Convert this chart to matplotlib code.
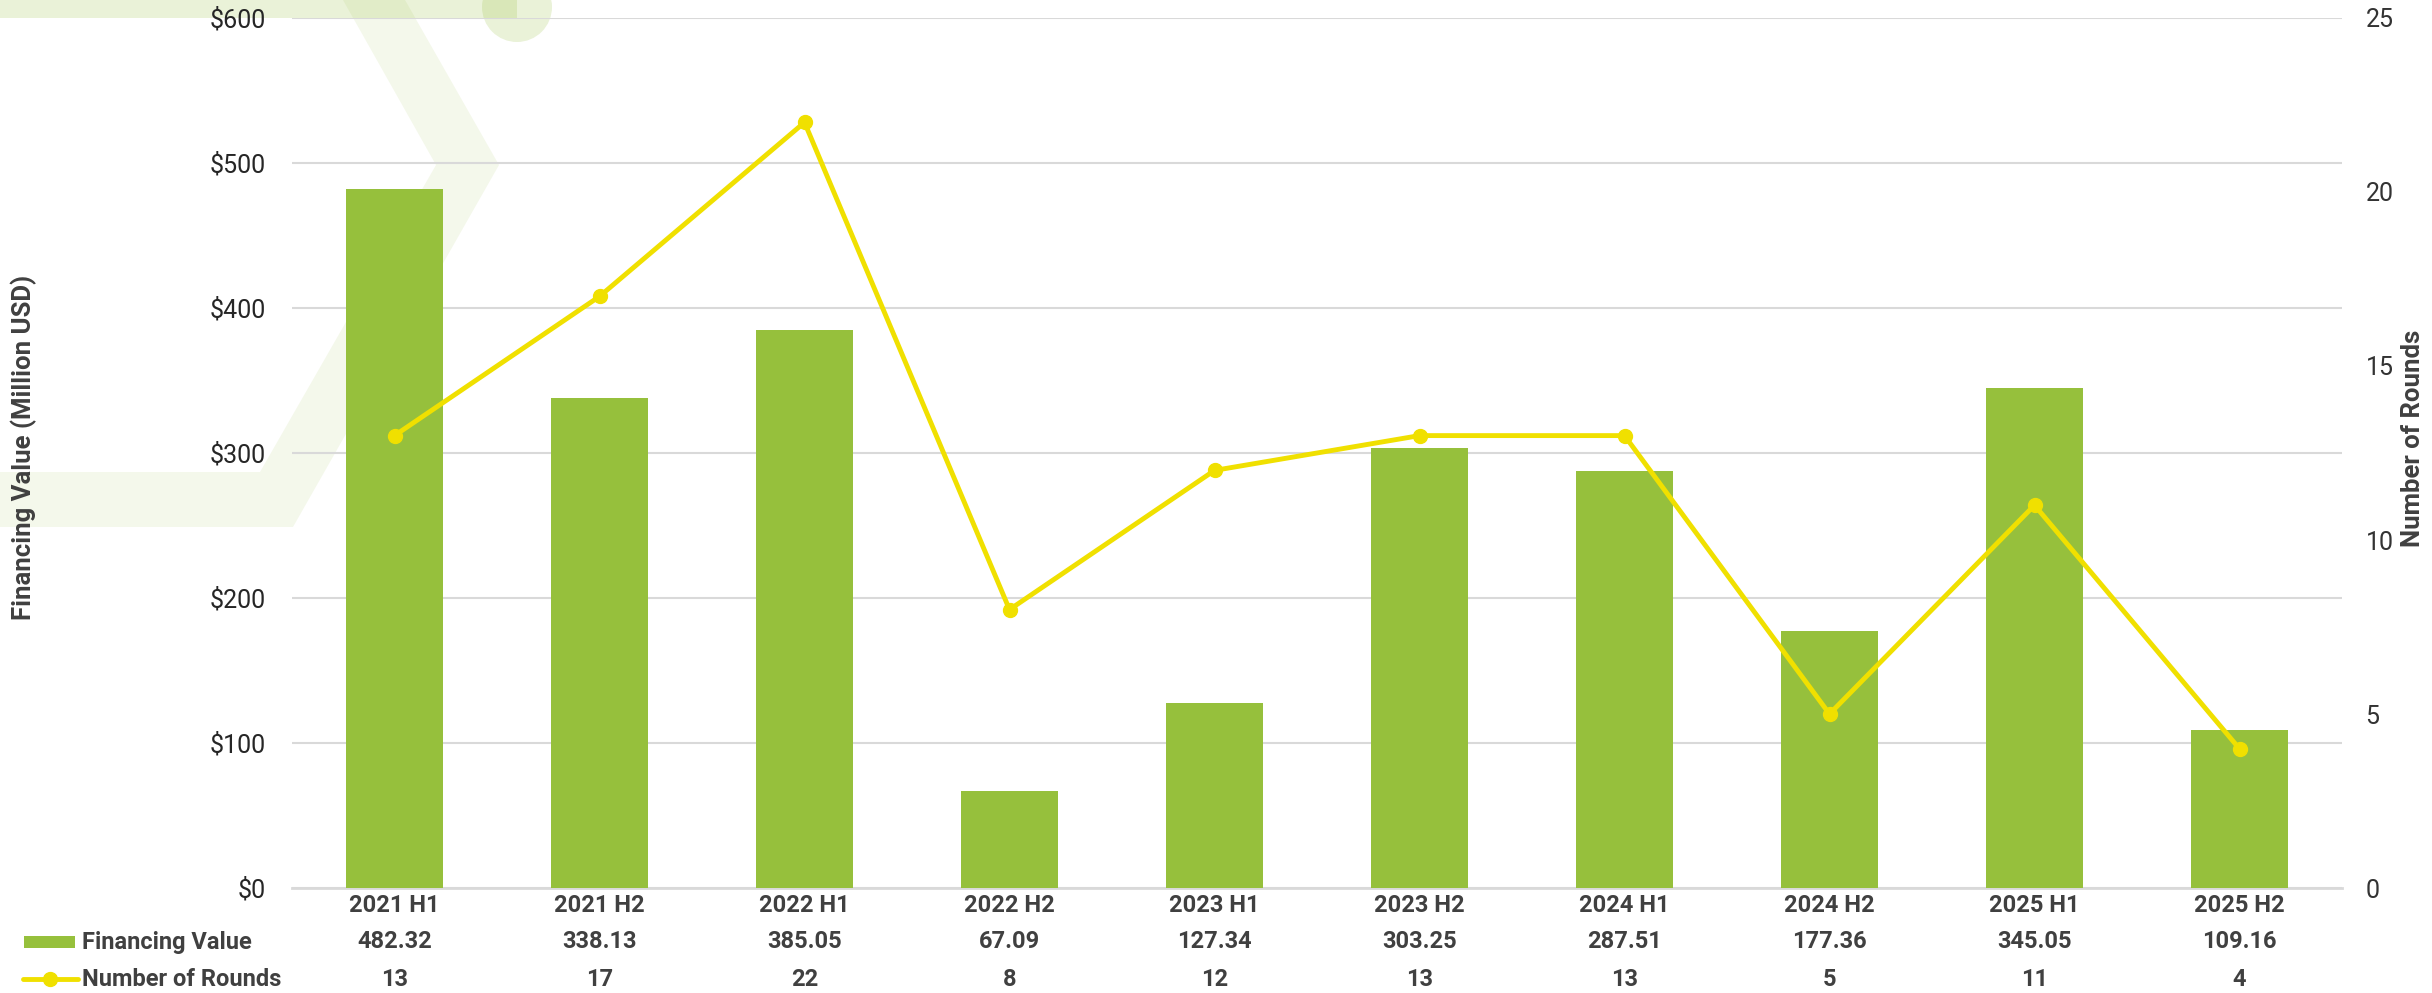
import matplotlib
matplotlib.use("Agg")
import matplotlib.pyplot as plt
from matplotlib.patches import Polygon, Circle, Rectangle
from matplotlib.lines import Line2D
from matplotlib.transforms import blended_transform_factory
from matplotlib.ticker import FuncFormatter, MultipleLocator

plt.rcParams['font.family'] = ['Roboto', 'DejaVu Sans']

categories = ["2021 H1", "2021 H2", "2022 H1", "2022 H2", "2023 H1",
              "2023 H2", "2024 H1", "2024 H2", "2025 H1", "2025 H2"]
financing_value = [482.32, 338.13, 385.05, 67.09, 127.34,
                   303.25, 287.51, 177.36, 345.05, 109.16]
number_of_rounds = [13, 17, 22, 8, 12, 13, 13, 5, 11, 4]

W, H = 2432, 993
BAR_COLOR = "#96C03C"
LINE_COLOR = "#F0E000"
GRID_COLOR = "#D9D9D9"
TEXT_DARK = "#404040"

fig = plt.figure(figsize=(W / 100, H / 100), dpi=100)
fig.patch.set_facecolor("white")

# background watermark layer (pixel coordinates)
bg = fig.add_axes([0, 0, 1, 1], zorder=0)
bg.set_xlim(0, W)
bg.set_ylim(H, 0)
bg.axis("off")
chevron = [(343, 0), (436, 165), (260, 472), (0, 472), (0, 527),
           (293, 527), (499, 165), (405, 0)]
bg.add_patch(Polygon(chevron, closed=True, facecolor="#96BE3C", alpha=0.1, lw=0))
bg.add_patch(Rectangle((0, -5), 517, 23, facecolor="#96BE3C", alpha=0.2, lw=0))
bg.add_patch(Circle((517, 7), 35, facecolor="#96BE3C", alpha=0.2, lw=0))

# legend keys of the data table
bg.add_patch(Rectangle((24, 936), 51, 12, facecolor=BAR_COLOR, lw=0))
bg.add_line(Line2D([23, 78], [979, 979], color=LINE_COLOR, lw=3.5,
                   solid_capstyle="round"))
bg.plot([50], [979], "o", color=LINE_COLOR, markersize=10)

# main axes
ax = fig.add_axes([292 / W, 1 - 888 / H, 2050 / W, 870 / H], zorder=1)
ax.patch.set_visible(False)
x = list(range(len(categories)))
ax.bar(x, financing_value, width=0.475, color=BAR_COLOR, zorder=3)
ax.set_xlim(-0.5, len(categories) - 0.5)
ax.set_ylim(0, 600)
ax.yaxis.set_major_locator(MultipleLocator(100))
ax.yaxis.set_major_formatter(FuncFormatter(lambda v, p: f"${v:.0f}"))
ax.grid(axis="y", color=GRID_COLOR, lw=1.5, zorder=0)
ax.set_axisbelow(True)
for s in ["top", "left", "right"]:
    ax.spines[s].set_visible(False)
ax.spines["bottom"].set_color(GRID_COLOR)
ax.spines["bottom"].set_linewidth(2)
ax.tick_params(axis="y", length=0, pad=19, labelsize=18, labelcolor="#262626")
ax.set_xticks([])
ax.set_ylabel("Financing Value (Million USD)", fontsize=18.5, fontweight="bold",
              color=TEXT_DARK)
ax.yaxis.set_label_coords(37 / W, 1 - 447 / H, transform=fig.transFigure)

ax2 = ax.twinx()
ax2.plot(x, number_of_rounds, color=LINE_COLOR, lw=3.5, marker="o",
         markersize=10, zorder=4)
ax2.set_ylim(0, 25)
ax2.yaxis.set_major_locator(MultipleLocator(5))
for s in ["top", "left", "right", "bottom"]:
    ax2.spines[s].set_visible(False)
ax2.tick_params(axis="y", length=0, pad=17, labelsize=18, labelcolor="#333333")
ax2.set_ylabel("Number of Rounds", fontsize=18.5, fontweight="bold",
               color=TEXT_DARK)
ax2.yaxis.set_label_coords(2401 / W, 1 - 438 / H, transform=fig.transFigure)

# data table beneath the plot
tr = blended_transform_factory(ax.transData, fig.transFigure)
row_y = [1 - 905 / H, 1 - 942 / H, 1 - 979 / H]
for i in x:
    ax.text(i, row_y[0], categories[i], transform=tr, ha="center", va="center",
            fontsize=17, fontweight="bold", color=TEXT_DARK)
    ax.text(i, row_y[1], f"{financing_value[i]:.2f}", transform=tr, ha="center",
            va="center", fontsize=17, fontweight="bold", color=TEXT_DARK)
    ax.text(i, row_y[2], f"{number_of_rounds[i]}", transform=tr, ha="center",
            va="center", fontsize=17, fontweight="bold", color=TEXT_DARK)

fig.text(82 / W, row_y[1], "Financing Value", ha="left", va="center",
         fontsize=17, fontweight="bold", color=TEXT_DARK)
fig.text(82 / W, row_y[2], "Number of Rounds", ha="left", va="center",
         fontsize=17, fontweight="bold", color=TEXT_DARK)

fig.savefig("out.png", dpi=100)
